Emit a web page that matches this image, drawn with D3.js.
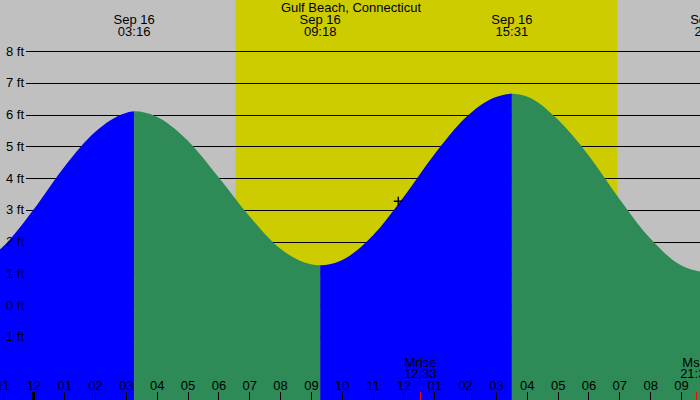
<!DOCTYPE html>
<html><head><meta charset="utf-8">
<script src="https://cdn.jsdelivr.net/npm/d3@7"></script>
<style>
body{margin:0;background:#c0c0c0}
svg{display:block}
text{font-family:"Liberation Sans",Arial,sans-serif;font-size:13px;fill:#000}
</style>
</head><body><svg id="c" width="700" height="400"></svg>
<script>
const title = "Gulf Beach, Connecticut";
const viewStart = "2024-09-15 22:55";
const viewEnd = "2024-09-16 21:37";

// Tide readings (time, feet)
const tideTimes = ["2024-09-15 21:42","2024-09-15 22:00","2024-09-15 23:00","2024-09-16 00:00","2024-09-16 01:00","2024-09-16 02:00","2024-09-16 03:00","2024-09-16 03:16","2024-09-16 04:00","2024-09-16 05:00","2024-09-16 06:00","2024-09-16 07:00","2024-09-16 08:00","2024-09-16 09:00","2024-09-16 09:18","2024-09-16 10:00","2024-09-16 11:00","2024-09-16 12:00","2024-09-16 13:00","2024-09-16 14:00","2024-09-16 15:00","2024-09-16 15:31","2024-09-16 16:00","2024-09-16 17:00","2024-09-16 18:00","2024-09-16 19:00","2024-09-16 20:00","2024-09-16 21:00","2024-09-16 21:58"];
const tideFeet = [1.2,1.25,1.83,3.0,4.35,5.45,6.05,6.1,5.93,5.18,4.03,2.8,1.78,1.28,1.25,1.41,2.18,3.39,4.74,5.89,6.55,6.65,6.57,5.85,4.72,3.35,2.1,1.25,1.0];

// High / low tide events
const extremeTimes = ["2024-09-15 21:42","2024-09-16 03:16","2024-09-16 09:18","2024-09-16 15:31","2024-09-16 21:58"];
const extremeFeet = [1.2,6.1,1.25,6.65,1.0];
const extremeDates = ["Sep 15","Sep 16","Sep 16","Sep 16","Sep 16"];
const extremeLabels = ["21:42","03:16","09:18","15:31","21:58"];

// Sun and moon
const sunrise = "2024-09-16 06:33";
const sunset = "2024-09-16 18:56";
const moonTimes = ["2024-09-16 12:33","2024-09-16 21:30"];
const moonNames = ["Mrise","Mset"];
const moonLabels = ["12:33","21:30"];

// Marker
const markerTime = "2024-09-16 11:50";
const markerFeet = 3.27;

// Axis ticks
const feetTicks = [-1,0,1,2,3,4,5,6,7,8];

const W = 700, H = 400;
const parse = d3.timeParse("%Y-%m-%d %H:%M");
const svg = d3.select("#c");

const x = d3.scaleTime().domain([parse(viewStart), parse(viewEnd)]).range([0, W]);
const y = d3.scaleLinear().domain([0, 8]).range([305, 51]);

// background
svg.append("rect").attr("width", W).attr("height", H).attr("fill", "#c0c0c0");
svg.append("rect")
  .attr("x", x(parse(sunrise))).attr("y", 0)
  .attr("width", x(parse(sunset)) - x(parse(sunrise))).attr("height", H)
  .attr("fill", "#cccc00");

// gridlines
const grid = svg.append("g").attr("transform", "translate(26,0)")
  .call(d3.axisLeft(y).tickValues(feetTicks).tickSize(-(W - 26)).tickFormat(""));
grid.select(".domain").remove();
grid.selectAll("line").attr("stroke", "#000").attr("shape-rendering", "crispEdges");

// tide area, coloured by rising / falling
const tide = tideTimes.map((t, i) => ({t: parse(t), v: tideFeet[i]}));
const area = d3.area().x(d => x(d.t)).y0(H).y1(d => y(d.v)).curve(d3.curveMonotoneX);
const defs = svg.append("defs");
const ext = extremeTimes.map((t, i) => ({t: parse(t), v: extremeFeet[i], d: extremeDates[i], l: extremeLabels[i]}));
for (let i = 0; i < ext.length - 1; i++) {
  const rising = ext[i + 1].v > ext[i].v;
  const id = "seg" + i;
  defs.append("clipPath").attr("id", id).append("rect")
    .attr("x", x(ext[i].t)).attr("y", 0)
    .attr("width", x(ext[i + 1].t) - x(ext[i].t)).attr("height", H);
  svg.append("path").datum(tide).attr("d", area)
    .attr("clip-path", `url(#${id})`)
    .attr("fill", rising ? "#0000ff" : "#2e8b57");
}

// y labels
const yl = svg.append("g").attr("transform", "translate(26,0)")
  .call(d3.axisLeft(y).tickValues(feetTicks).tickSize(0).tickPadding(2).tickFormat(d => d + " ft"));
yl.select(".domain").remove();
yl.selectAll("text").attr("fill", "#000").style("font-size", "13px").style("font-family", '"Liberation Sans",Arial,sans-serif');

// hour axis at bottom
const hours = d3.timeHour.range(d3.timeHour.ceil(parse(viewStart)), parse(viewEnd));
const xa = svg.append("g").attr("transform", `translate(0,${H})`)
  .call(d3.axisTop(x).tickValues(hours).tickSize(8).tickPadding(2).tickFormat(d3.timeFormat("%I")));
xa.select(".domain").remove();
xa.selectAll("line").attr("stroke", "#000").attr("shape-rendering", "crispEdges")
  .attr("stroke-width", d => d.getHours() === 0 ? 3 : 1);
xa.selectAll("text").attr("fill", "#000").style("font-size", "13px").style("font-family", '"Liberation Sans",Arial,sans-serif');

// moon ticks and labels
const moon = moonTimes.map((t, i) => ({t: parse(t), n: moonNames[i], l: moonLabels[i]}));
const ma = svg.append("g").attr("transform", `translate(0,${H})`)
  .call(d3.axisTop(x).tickValues(moon.map(m => m.t)).tickSize(8).tickFormat(""));
ma.select(".domain").remove();
ma.selectAll("line").attr("stroke", "#ff0000").attr("shape-rendering", "crispEdges");
svg.append("g").selectAll("text").data(moon).join("text")
  .attr("x", d => x(d.t)).attr("y", 366.5).attr("text-anchor", "middle").text(d => d.n);
svg.append("g").selectAll("text").data(moon).join("text")
  .attr("x", d => x(d.t)).attr("y", 378).attr("text-anchor", "middle").text(d => d.l);

// extreme labels at top (only those inside the view)
const shown = ext.filter(d => x(d.t) >= 0);
svg.append("g").selectAll("text").data(shown).join("text")
  .attr("x", d => x(d.t)).attr("y", 24.3).attr("text-anchor", "middle").text(d => d.d);
svg.append("g").selectAll("text").data(shown).join("text")
  .attr("x", d => x(d.t)).attr("y", 36).attr("text-anchor", "middle").text(d => d.l);

// title
svg.append("text").attr("x", 351).attr("y", 12.3).attr("text-anchor", "middle").text(title);

// marker
svg.append("path")
  .attr("transform", `translate(${x(parse(markerTime))},${y(markerFeet)})`)
  .attr("d", "M-4.5,0H4.5M0,-4.5V4.5")
  .attr("stroke", "#000").attr("stroke-width", 1.5).attr("fill", "none");
</script>
</body></html>
